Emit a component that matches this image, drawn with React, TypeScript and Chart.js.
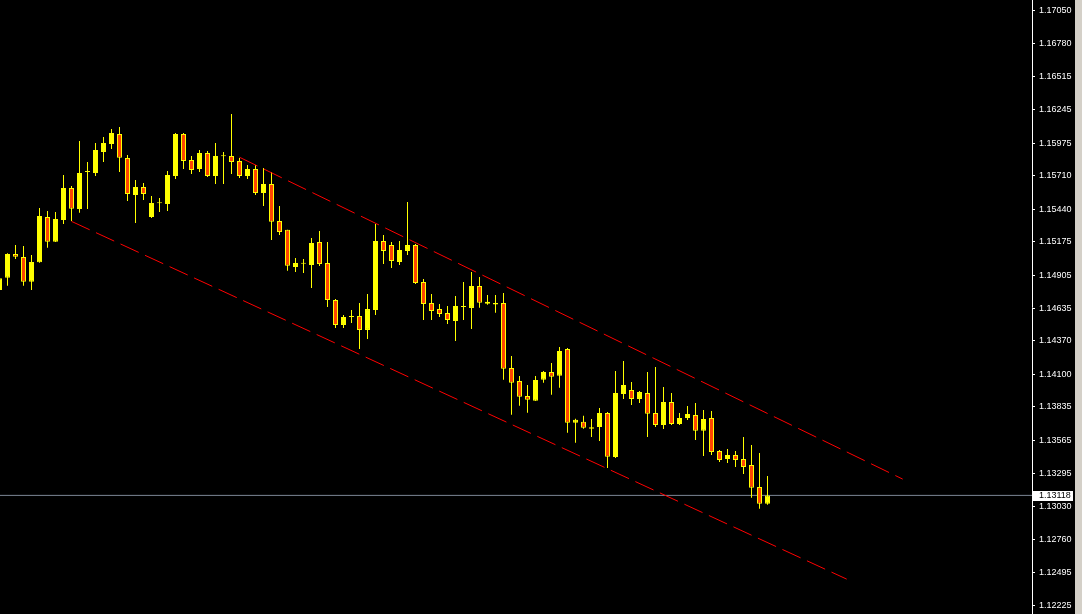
import React, { useEffect, useRef } from "react";
import { Chart, registerables } from "chart.js";

Chart.register(...registerables);

// OHLC of each bar, oldest first (first bar is only partly visible at the left edge)
const opens = [
  1.14784, 1.14883, 1.15075, 1.15051, 1.14851, 1.15008, 1.15375, 1.15175, 1.15351, 1.15611,
  1.1544, 1.1574, 1.15732, 1.15903, 1.15967, 1.16049, 1.15854, 1.15554, 1.15619, 1.15375,
  1.15487, 1.15481, 1.15708, 1.16049, 1.15838, 1.15765, 1.15894, 1.15708, 1.15868, 1.1587,
  1.1583, 1.15708, 1.15765, 1.1557, 1.15643, 1.15343, 1.15272, 1.1497, 1.14997, 1.14986,
  1.15173, 1.15002, 1.14702, 1.145, 1.14565, 1.14573, 1.1446, 1.14621, 1.15181, 1.15148,
  1.15011, 1.151, 1.15148, 1.14848, 1.14678, 1.14629, 1.14597, 1.14532, 1.14646, 1.14638,
  1.14816, 1.14672, 1.14666, 1.14678, 1.14151, 1.14046, 1.13924, 1.13886, 1.14056, 1.14119,
  1.14089, 1.14305, 1.13707, 1.13715, 1.13658, 1.13672, 1.13786, 1.13429, 1.1394, 1.13973,
  1.139, 1.13948, 1.13786, 1.13689, 1.13875, 1.13697, 1.13746, 1.1377, 1.13642, 1.13746,
  1.13478, 1.13413, 1.13446, 1.13413, 1.13364, 1.13186, 1.13051,
];
const highs = [
  1.14905, 1.15081, 1.15148, 1.1514, 1.15067, 1.15448, 1.15424, 1.15416, 1.15716, 1.15627,
  1.15992, 1.15821, 1.15976, 1.16024, 1.16089, 1.16105, 1.15878, 1.15675, 1.15651, 1.15546,
  1.1553, 1.15749, 1.16057, 1.16057, 1.1587, 1.15919, 1.15911, 1.15976, 1.15903, 1.16211,
  1.15854, 1.15797, 1.15797, 1.15773, 1.1574, 1.15465, 1.15272, 1.15043, 1.15035, 1.15205,
  1.15262, 1.15173, 1.14711, 1.14581, 1.14622, 1.14678, 1.14751, 1.15319, 1.1523, 1.15173,
  1.15181, 1.15497, 1.15157, 1.14873, 1.14751, 1.1467, 1.14654, 1.14735, 1.14848, 1.1493,
  1.14889, 1.14743, 1.14743, 1.14759, 1.14248, 1.14086, 1.14013, 1.14086, 1.14127, 1.14192,
  1.14321, 1.14313, 1.13739, 1.13764, 1.13737, 1.13827, 1.13794, 1.14127, 1.14208, 1.14037,
  1.13965, 1.14119, 1.14159, 1.13997, 1.13948, 1.13786, 1.13843, 1.13867, 1.1381, 1.13802,
  1.13486, 1.13494, 1.13478, 1.13591, 1.13527, 1.13462, 1.13275,
];
const lows = [
  1.14759, 1.14818, 1.15035, 1.14818, 1.14784, 1.15005, 1.15127, 1.15173, 1.15319, 1.15343,
  1.1541, 1.1544, 1.15708, 1.15821, 1.15927, 1.1574, 1.15505, 1.15327, 1.15513, 1.15367,
  1.15416, 1.15424, 1.15684, 1.15765, 1.15724, 1.1574, 1.157, 1.15643, 1.15643, 1.15724,
  1.15692, 1.15684, 1.15554, 1.15465, 1.15189, 1.1523, 1.1494, 1.1493, 1.14921, 1.148,
  1.14978, 1.14646, 1.14476, 1.14476, 1.14516, 1.14305, 1.14387, 1.14581, 1.14994, 1.14962,
  1.14986, 1.15067, 1.14832, 1.1454, 1.1454, 1.14565, 1.14508, 1.1437, 1.1454, 1.14468,
  1.1464, 1.14664, 1.146, 1.14056, 1.13772, 1.13845, 1.13789, 1.13883, 1.14032, 1.13935,
  1.13991, 1.13626, 1.13545, 1.13658, 1.13591, 1.13559, 1.1334, 1.13421, 1.139, 1.13851,
  1.13867, 1.13591, 1.13672, 1.13656, 1.13689, 1.13689, 1.13729, 1.13567, 1.13437, 1.13446,
  1.13389, 1.13381, 1.13348, 1.13291, 1.13099, 1.1301, 1.13043,
];
const closes = [
  1.14878, 1.15075, 1.15054, 1.14851, 1.15011, 1.15384, 1.15175, 1.15359, 1.15611, 1.15443,
  1.15732, 1.1574, 1.15919, 1.15976, 1.16057, 1.15856, 1.15562, 1.15619, 1.15562, 1.15489,
  1.15487, 1.15716, 1.16049, 1.1583, 1.15757, 1.15894, 1.15708, 1.1587, 1.15868, 1.15821,
  1.15708, 1.15765, 1.1557, 1.15643, 1.15337, 1.15254, 1.14981, 1.15002, 1.14997, 1.15165,
  1.14994, 1.14702, 1.145, 1.14565, 1.14565, 1.1446, 1.14629, 1.15181, 1.151, 1.15019,
  1.15108, 1.15148, 1.1484, 1.1467, 1.14613, 1.14589, 1.1454, 1.14654, 1.14646, 1.14816,
  1.14681, 1.14689, 1.14678, 1.14145, 1.14032, 1.13918, 1.13894, 1.14054, 1.14119, 1.1408,
  1.14289, 1.13707, 1.13731, 1.13666, 1.1367, 1.13786, 1.13432, 1.13948, 1.14013, 1.139,
  1.13956, 1.1378, 1.13689, 1.13875, 1.13697, 1.13746, 1.13778, 1.13642, 1.13737, 1.1347,
  1.13405, 1.13446, 1.13405, 1.13348, 1.1318, 1.13051, 1.13118,
];

// price axis labels (as printed)
const priceTicks = [
  1.1705, 1.1678, 1.16515, 1.16245, 1.15975, 1.1571, 1.1544, 1.15175, 1.14905, 1.14635,
  1.1437, 1.141, 1.13835, 1.13565, 1.13295, 1.1303, 1.1276, 1.12495, 1.12225,
];
const lastPrice = 1.13118;
const priceMin = 1.121562;
const priceMax = 1.171351;
const barMin = 0.0625;
const barMax = 129.0625;

// channel lines: [bar index, price] at both ends
const upperChannel = [
  { x: 30, y: 1.1586 },
  { x: 112.9, y: 1.1325 },
];
const lowerChannel = [
  { x: 9, y: 1.1534 },
  { x: 105.9, y: 1.12439 },
];

const BULL = "#ffff00";
const BEAR = "#ff4500";

export default function App() {
  const ref = useRef<HTMLCanvasElement>(null);

  useEffect(() => {
    const canvas = ref.current;
    if (!canvas) return;
    const idx = opens.map((_, i) => i);
    const bodies = idx.map((i) => ({ x: i, y: [opens[i], closes[i]] }));
    const wicks = idx.map((i) => ({ x: i, y: [lows[i], highs[i]] }));
    const bodyColors = idx.map((i) => (closes[i] >= opens[i] ? BULL : BEAR));

    const priceTag = {
      id: "priceTag",
      afterDraw(chart: any) {
        const ctx = chart.ctx;
        const ys = chart.scales.y;
        const y = Math.round(ys.getPixelForValue(lastPrice));
        ctx.save();
        ctx.fillStyle = "#ffffff";
        ctx.fillRect(ys.left + 1, y - 4, 40, 10);
        ctx.fillStyle = "#000000";
        ctx.font = '9px "Liberation Sans"';
        ctx.textBaseline = "middle";
        ctx.textAlign = "left";
        ctx.fillText(lastPrice.toFixed(5), ys.left + 7, y + 1);
        ctx.fillStyle = "#d4d0c8";
        ctx.fillRect(ys.right - 7, 0, 7, chart.height);
        ctx.restore();
      },
    };

    const chart = new Chart(canvas, {
      type: "bar",
      data: {
        datasets: [
          {
            type: "line",
            data: upperChannel,
            borderColor: "#ff0000",
            borderWidth: 1,
            borderDash: [20, 7],
            pointRadius: 0,
            fill: false,
            tension: 0,
            order: 0,
          } as any,
          {
            type: "line",
            data: lowerChannel,
            borderColor: "#ff0000",
            borderWidth: 1,
            borderDash: [20, 7],
            pointRadius: 0,
            fill: false,
            tension: 0,
            order: 0,
          } as any,
          {
            type: "line",
            data: [
              { x: barMin, y: lastPrice },
              { x: barMax, y: lastPrice },
            ],
            borderColor: "#7d8796",
            borderWidth: 1,
            pointRadius: 0,
            fill: false,
            order: 3,
          } as any,
          {
            type: "bar",
            data: bodies,
            backgroundColor: bodyColors,
            borderColor: BULL,
            borderWidth: 1,
            borderSkipped: false,
            barThickness: 5,
            grouped: false,
            minBarLength: 1,
            inflateAmount: 0,
            order: 1,
          } as any,
          {
            type: "bar",
            data: wicks,
            backgroundColor: BULL,
            borderWidth: 0,
            barThickness: 1,
            grouped: false,
            inflateAmount: 0,
            order: 2,
          } as any,
        ],
      },
      options: {
        responsive: false,
        animation: false,
        devicePixelRatio: 1,
        events: [],
        layout: { padding: 0 },
        plugins: {
          legend: { display: false },
          tooltip: { enabled: false },
          title: { display: false },
        },
        scales: {
          x: {
            type: "linear",
            min: barMin,
            max: barMax,
            offset: false,
            display: false,
            grid: { display: false },
          },
          y: {
            type: "linear",
            position: "right",
            min: priceMin,
            max: priceMax,
            afterBuildTicks: (s: any) => {
              s.ticks = priceTicks.map((v) => ({ value: v }));
            },
            afterFit: (s: any) => {
              s.width = 50;
              s.paddingTop = 0;
              s.paddingBottom = 0;
            },
            border: { display: true, color: "#ffffff", width: 1 },
            grid: {
              display: true,
              drawOnChartArea: false,
              drawTicks: true,
              tickLength: 3,
              color: "#ffffff",
              lineWidth: 1,
            },
            ticks: {
              autoSkip: false,
              padding: 4,
              color: "#ffffff",
              crossAlign: "near",
              font: { family: "Liberation Sans", size: 9 },
              callback: (v: any) => Number(v).toFixed(5),
            },
          },
        },
      } as any,
      plugins: [priceTag],
    });
    return () => chart.destroy();
  }, []);

  return (
    <div
      style={{
        position: "fixed",
        left: 0,
        top: 0,
        width: 1082,
        height: 614,
        background: "#000000",
      }}
    >
      <canvas
        ref={ref}
        width={1082}
        height={614}
        style={{ display: "block", width: 1082, height: 614, background: "#000000" }}
      />
    </div>
  );
}
